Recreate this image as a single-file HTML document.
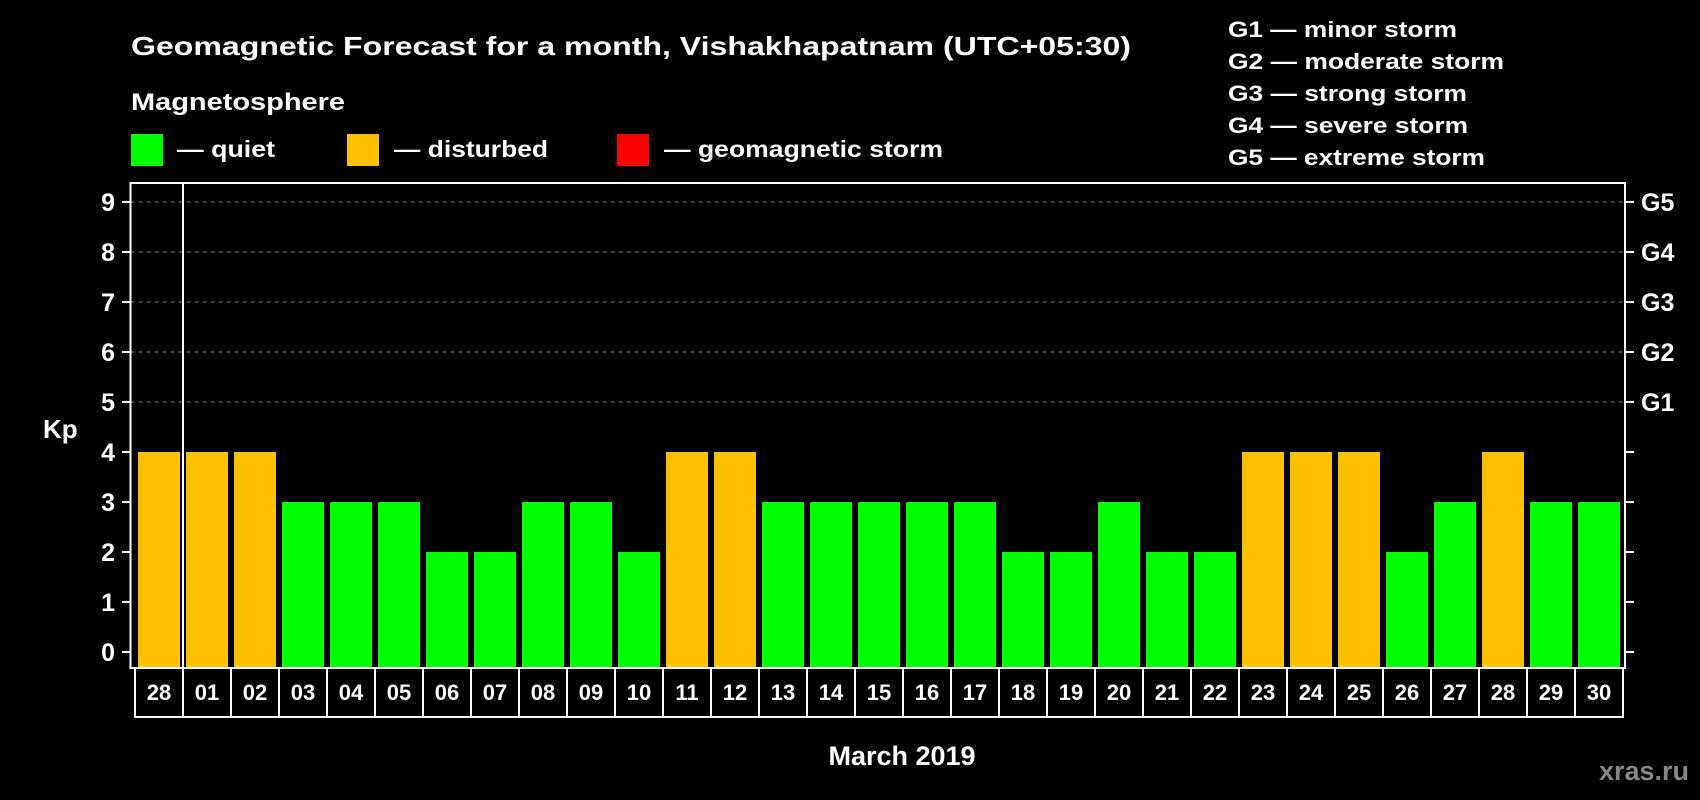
<!DOCTYPE html>
<html><head><meta charset="utf-8"><style>
html,body{margin:0;padding:0;background:#000;}
svg{display:block;font-family:"Liberation Sans",Arial,sans-serif;font-weight:bold;}
</style></head><body>
<svg id="chart" width="1700" height="800" viewBox="0 0 1700 800">
<rect x="0" y="0" width="1700" height="800" fill="#000"/>
<text x="131" y="55" font-size="26" fill="#fff" textLength="1000" lengthAdjust="spacingAndGlyphs">Geomagnetic Forecast for a month, Vishakhapatnam (UTC+05:30)</text>
<text x="131" y="110" font-size="24" fill="#fff" textLength="214" lengthAdjust="spacingAndGlyphs">Magnetosphere</text>
<g>
<rect x="131" y="134" width="32" height="32" fill="#00ff00"/>
<text x="177" y="157" font-size="23" fill="#fff" textLength="98" lengthAdjust="spacingAndGlyphs">— quiet</text>
<rect x="347" y="134" width="32" height="32" fill="#ffc000"/>
<text x="394" y="157" font-size="23" fill="#fff" textLength="154" lengthAdjust="spacingAndGlyphs">— disturbed</text>
<rect x="617" y="134" width="32" height="32" fill="#ff0000"/>
<text x="664" y="157" font-size="23" fill="#fff" textLength="279" lengthAdjust="spacingAndGlyphs">— geomagnetic storm</text>
</g>
<g font-size="22" fill="#fff">
<text x="1228" y="37" textLength="229" lengthAdjust="spacingAndGlyphs">G1 — minor storm</text>
<text x="1228" y="69" textLength="276" lengthAdjust="spacingAndGlyphs">G2 — moderate storm</text>
<text x="1228" y="101" textLength="239" lengthAdjust="spacingAndGlyphs">G3 — strong storm</text>
<text x="1228" y="133" textLength="240" lengthAdjust="spacingAndGlyphs">G4 — severe storm</text>
<text x="1228" y="165" textLength="257" lengthAdjust="spacingAndGlyphs">G5 — extreme storm</text>
</g>
<g id="grid"></g>
<g id="bars"></g>
<g id="axes"></g>
<g id="dates"></g>
<text x="43" y="438" font-size="26" fill="#fff">Kp</text>
<text x="902" y="765" font-size="27" fill="#fff" text-anchor="middle">March 2019</text>
<text x="1689" y="780" font-size="27" fill="#888" text-anchor="end">xras.ru</text>
</svg>
<script>
const days = ["28","01","02","03","04","05","06","07","08","09","10","11","12","13","14","15","16","17","18","19","20","21","22","23","24","25","26","27","28","29","30"];
const kpValues = [4,4,4,3,3,3,2,2,3,3,2,4,4,3,3,3,3,3,2,2,3,2,2,4,4,4,2,3,4,3,3];
const yTicks = [0,1,2,3,4,5,6,7,8,9];
const gLevels = [5,6,7,8,9];
const gLabels = ["G1","G2","G3","G4","G5"];

const NS = "http://www.w3.org/2000/svg";
const plotL = 130.5, plotR = 1625, plotT = 183, plotB = 668;
const y0 = 652, unit = 50;
const slotX0 = 135, slot = 48, barW = 42;
function yScale(v){ return y0 - v*unit; }
function xSlot(i){ return slotX0 + i*slot; }
function mk(tag, attrs, parent){
  const e = document.createElementNS(NS, tag);
  for (const k in attrs) e.setAttribute(k, attrs[k]);
  parent.appendChild(e);
  return e;
}
const grid = document.getElementById('grid');
const bars = document.getElementById('bars');
const axes = document.getElementById('axes');
const dates = document.getElementById('dates');

gLevels.forEach((v, i) => {
  const l = mk('line', {x1: plotL, x2: plotR, y1: yScale(v), y2: yScale(v), stroke: '#888', 'stroke-width': 1, 'stroke-dasharray': '4,4'}, grid);
  
  
  const t = mk('text', {x: 1641, y: yScale(v) + 9, 'font-size': 25, fill: '#fff'}, axes);
  t.textContent = gLabels[i];
  
  
});

kpValues.forEach((v, i) => {
  const r = mk('rect', {x: xSlot(i) + 3, y: yScale(v), width: barW, height: plotB - yScale(v), fill: v >= 5 ? '#ff0000' : (v >= 4 ? '#ffc000' : '#00ff00')}, bars);
  
  
});

const frame = mk('rect', {x: plotL, y: plotT, width: plotR - plotL, height: plotB - plotT, fill: 'none', stroke: '#fff', 'stroke-width': 2}, axes);


const sep = mk('line', {x1: xSlot(1), x2: xSlot(1), y1: plotT, y2: plotB, stroke: '#fff', 'stroke-width': 2}, axes);



yTicks.forEach(v => {
  const y = yScale(v);
  const tl = mk('line', {x1: 122, x2: plotL, y1: y, y2: y, stroke: '#fff', 'stroke-width': 2}, axes);
  
  
  const tr = mk('line', {x1: plotR, x2: 1634, y1: y, y2: y, stroke: '#fff', 'stroke-width': 2}, axes);
  
  
  const t = mk('text', {x: 115, y: y + 9, 'font-size': 25, fill: '#fff', 'text-anchor': 'end'}, axes);
  t.textContent = v;
  
  
});

days.forEach((d, i) => {
  const c = mk('rect', {x: xSlot(i), y: plotB, width: slot, height: 49, fill: '#000', stroke: '#fff', 'stroke-width': 2}, dates);
  
  
  const t = mk('text', {x: xSlot(i) + slot/2, y: 700, 'font-size': 22, fill: '#fff', 'text-anchor': 'middle'}, dates);
  t.textContent = d;
  
  
});
</script>
</body></html>
